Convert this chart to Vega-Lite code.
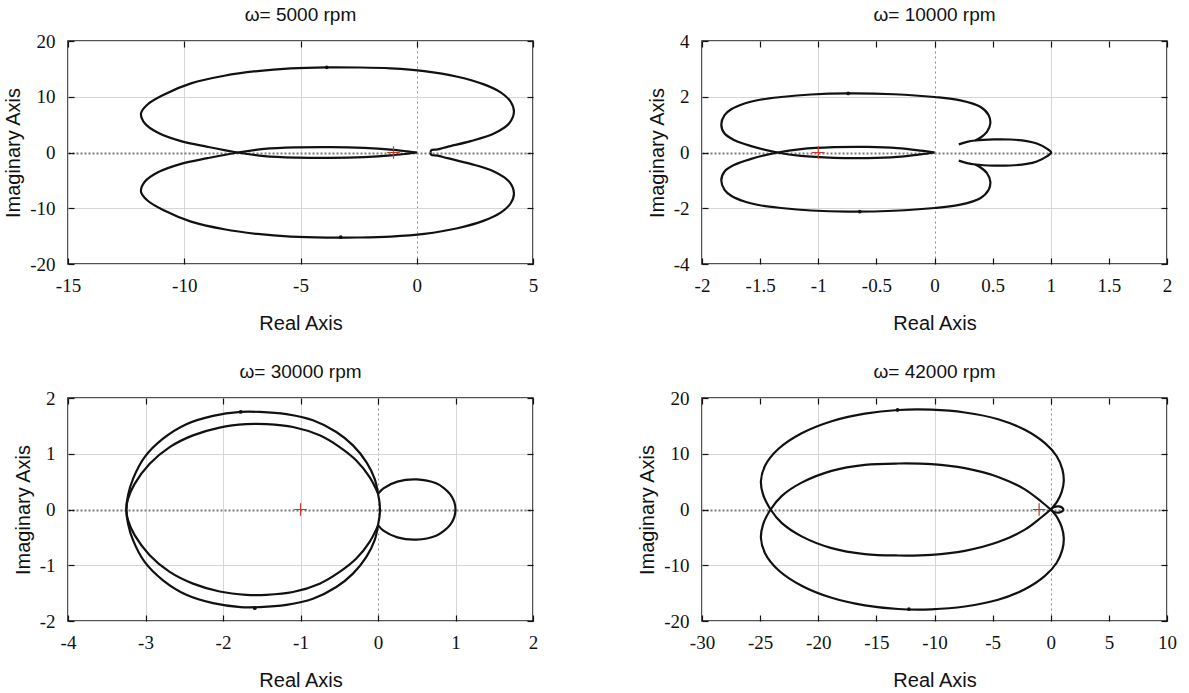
{
  "$schema": "https://vega.github.io/schema/vega-lite/v6.json",
  "background": "white",
  "padding": {"left": 2, "top": 5, "right": 0, "bottom": 0},
  "columns": 2,
  "spacing": {"row": 134, "column": 169},
  "bounds": "flush",
  "config": {
    "font": "Liberation Serif",
    "view": {"stroke": "#1a1a1a", "strokeWidth": 1.5},
    "axis": {
      "domain": false,
      "labelFont": "Liberation Serif",
      "labelFontSize": 19,
      "labelColor": "#111",
      "labelFlush": false,
      "labelOverlap": false,
      "tickColor": "#111",
      "tickSize": -6,
      "tickWidth": 1.2,
      "titleFont": "Liberation Sans",
      "titleFontSize": 20,
      "titleFontWeight": "normal",
      "titleColor": "#111",
      "gridColor": "#d6d6d6",
      "gridWidth": 1
    },
    "axisX": {"labelPadding": 18, "titlePadding": 18},
    "axisY": {"labelPadding": 19, "titlePadding": 6},
    "title": {"font": "Liberation Sans", "fontSize": 19, "fontWeight": "normal", "color": "#111", "offset": 7}
  },
  "concat": [
    {
      "title": "ω= 5000 rpm",
      "width": 465,
      "height": 223,
      "data": {"values": [
        {"k":"c","s":"U","i":0,"x":0.6,"y":0},
        {"k":"c","s":"U","i":1,"x":0.62,"y":0.4},
        {"k":"c","s":"U","i":2,"x":0.9,"y":0.55},
        {"k":"c","s":"U","i":3,"x":1.32,"y":1.02},
        {"k":"c","s":"U","i":4,"x":2.32,"y":2.04},
        {"k":"c","s":"U","i":5,"x":3.32,"y":3.41},
        {"k":"c","s":"U","i":6,"x":3.97,"y":5.21},
        {"k":"c","s":"U","i":7,"x":4.18,"y":7.3},
        {"k":"c","s":"U","i":8,"x":4.04,"y":9.1},
        {"k":"c","s":"U","i":9,"x":3.61,"y":10.78},
        {"k":"c","s":"U","i":10,"x":2.89,"y":12.22},
        {"k":"c","s":"U","i":11,"x":1.75,"y":13.59},
        {"k":"c","s":"U","i":12,"x":0.32,"y":14.61},
        {"k":"c","s":"U","i":13,"x":-1.12,"y":15.09},
        {"k":"c","s":"U","i":14,"x":-2.55,"y":15.25},
        {"k":"c","s":"U","i":15,"x":-3.87,"y":15.27},
        {"k":"c","s":"U","i":16,"x":-5.42,"y":15.09},
        {"k":"c","s":"U","i":17,"x":-6.85,"y":14.61},
        {"k":"c","s":"U","i":18,"x":-8.28,"y":13.77},
        {"k":"c","s":"U","i":19,"x":-9.71,"y":12.4},
        {"k":"c","s":"U","i":20,"x":-10.86,"y":10.42},
        {"k":"c","s":"U","i":21,"x":-11.58,"y":8.62},
        {"k":"c","s":"U","i":22,"x":-11.86,"y":7.0},
        {"k":"c","s":"U","i":23,"x":-11.69,"y":5.21},
        {"k":"c","s":"U","i":24,"x":-11.15,"y":3.59},
        {"k":"c","s":"U","i":25,"x":-10.14,"y":2.04},
        {"k":"c","s":"U","i":26,"x":-9.0,"y":1.02},
        {"k":"c","s":"U","i":27,"x":-7.71,"y":0},
        {"k":"c","s":"U","i":28,"x":-6.56,"y":-0.65},
        {"k":"c","s":"U","i":29,"x":-5.13,"y":-0.92},
        {"k":"c","s":"U","i":30,"x":-3.7,"y":-0.97},
        {"k":"c","s":"U","i":31,"x":-2.26,"y":-0.82},
        {"k":"c","s":"U","i":32,"x":-1.12,"y":-0.52},
        {"k":"c","s":"U","i":33,"x":-0.4,"y":-0.2},
        {"k":"c","s":"U","i":34,"x":0,"y":0},
        {"k":"c","s":"L","i":0,"x":0.6,"y":0},
        {"k":"c","s":"L","i":1,"x":0.62,"y":-0.4},
        {"k":"c","s":"L","i":2,"x":0.9,"y":-0.55},
        {"k":"c","s":"L","i":3,"x":1.32,"y":-1.02},
        {"k":"c","s":"L","i":4,"x":2.32,"y":-2.04},
        {"k":"c","s":"L","i":5,"x":3.32,"y":-3.41},
        {"k":"c","s":"L","i":6,"x":3.97,"y":-5.21},
        {"k":"c","s":"L","i":7,"x":4.18,"y":-7.3},
        {"k":"c","s":"L","i":8,"x":4.04,"y":-9.1},
        {"k":"c","s":"L","i":9,"x":3.61,"y":-10.78},
        {"k":"c","s":"L","i":10,"x":2.89,"y":-12.22},
        {"k":"c","s":"L","i":11,"x":1.75,"y":-13.59},
        {"k":"c","s":"L","i":12,"x":0.32,"y":-14.61},
        {"k":"c","s":"L","i":13,"x":-1.12,"y":-15.09},
        {"k":"c","s":"L","i":14,"x":-2.55,"y":-15.25},
        {"k":"c","s":"L","i":15,"x":-3.87,"y":-15.27},
        {"k":"c","s":"L","i":16,"x":-5.42,"y":-15.09},
        {"k":"c","s":"L","i":17,"x":-6.85,"y":-14.61},
        {"k":"c","s":"L","i":18,"x":-8.28,"y":-13.77},
        {"k":"c","s":"L","i":19,"x":-9.71,"y":-12.4},
        {"k":"c","s":"L","i":20,"x":-10.86,"y":-10.42},
        {"k":"c","s":"L","i":21,"x":-11.58,"y":-8.62},
        {"k":"c","s":"L","i":22,"x":-11.86,"y":-7.0},
        {"k":"c","s":"L","i":23,"x":-11.69,"y":-5.21},
        {"k":"c","s":"L","i":24,"x":-11.15,"y":-3.59},
        {"k":"c","s":"L","i":25,"x":-10.14,"y":-2.04},
        {"k":"c","s":"L","i":26,"x":-9.0,"y":-1.02},
        {"k":"c","s":"L","i":27,"x":-7.71,"y":0},
        {"k":"c","s":"L","i":28,"x":-6.56,"y":0.65},
        {"k":"c","s":"L","i":29,"x":-5.13,"y":0.92},
        {"k":"c","s":"L","i":30,"x":-3.7,"y":0.97},
        {"k":"c","s":"L","i":31,"x":-2.26,"y":0.82},
        {"k":"c","s":"L","i":32,"x":-1.12,"y":0.52},
        {"k":"c","s":"L","i":33,"x":-0.4,"y":0.2},
        {"k":"c","s":"L","i":34,"x":0,"y":0},
        {"k":"d","x":-3.87,"y":15.27},
        {"k":"d","x":-3.27,"y":-15.2},
        {"k":"p","x":-1,"y":0}
      ]},
      "layer": [
        {
          "transform": [{"filter": "datum.k === 'c'"}],
          "mark": {"type": "line", "interpolate": "catmull-rom", "stroke": "#111", "strokeWidth": 2.2},
          "encoding": {
            "x": {"field": "x", "type": "quantitative", "scale": {"domain": [-15, 5], "nice": false, "zero": false},
              "axis": {"title": "Real Axis", "labelFont": "Liberation Serif", "values": [-15, -10, -5, 0, 5], "labelExpr": "'' + datum.value",
                "gridColor": {"condition": {"test": "datum.value === 0", "value": "#8c8c8c"}, "value": "#d6d6d6"},
                "gridDash": {"condition": {"test": "datum.value === 0", "value": [2, 3]}, "value": []}}},
            "y": {"field": "y", "type": "quantitative", "scale": {"domain": [-20, 20], "nice": false, "zero": false},
              "axis": {"title": "Imaginary Axis", "labelFont": "Liberation Serif", "values": [-20, -10, 0, 10, 20], "labelExpr": "'' + datum.value",
                "gridColor": {"condition": {"test": "datum.value === 0", "value": "#7a7a7a"}, "value": "#d6d6d6"},
                "gridDash": {"condition": {"test": "datum.value === 0", "value": [2, 2]}, "value": []},
                "gridWidth": {"condition": {"test": "datum.value === 0", "value": 1.8}, "value": 1}}},
            "detail": {"field": "s", "type": "nominal"},
            "order": {"field": "i", "type": "quantitative"}
          }
        },
        {
          "transform": [{"filter": "datum.k === 'd'"}],
          "mark": {"type": "point", "shape": "circle", "filled": true, "color": "#111", "size": 14, "opacity": 1},
          "encoding": {
            "x": {"field": "x", "type": "quantitative", "scale": {"domain": [-15, 5], "nice": false, "zero": false}, "axis": null},
            "y": {"field": "y", "type": "quantitative", "scale": {"domain": [-20, 20], "nice": false, "zero": false}, "axis": null}
          }
        },
        {
          "transform": [{"filter": "datum.k === 'p'"}],
          "mark": {"type": "point", "shape": "M-1,0H1M0,-1V1", "filled": false, "stroke": "#c0392b", "strokeWidth": 1.2, "size": 160, "opacity": 1},
          "encoding": {
            "x": {"field": "x", "type": "quantitative", "scale": {"domain": [-15, 5], "nice": false, "zero": false},
              "axis": {"orient": "top", "labels": false, "title": null, "grid": false, "values": [-15, -10, -5, 0, 5]}},
            "y": {"field": "y", "type": "quantitative", "scale": {"domain": [-20, 20], "nice": false, "zero": false},
              "axis": {"orient": "right", "labels": false, "title": null, "grid": false, "values": [-20, -10, 0, 10, 20]}}
          }
        }
      ],
      "resolve": {"axis": {"x": "independent", "y": "independent"}}
    },
    {
      "title": "ω= 10000 rpm",
      "width": 465,
      "height": 223,
      "data": {"values": [
        {"k":"c","s":"U","i":0,"x":0.35,"y":0.43},
        {"k":"c","s":"U","i":1,"x":0.394,"y":0.53},
        {"k":"c","s":"U","i":2,"x":0.451,"y":0.74},
        {"k":"c","s":"U","i":3,"x":0.48,"y":1.04},
        {"k":"c","s":"U","i":4,"x":0.466,"y":1.34},
        {"k":"c","s":"U","i":5,"x":0.394,"y":1.64},
        {"k":"c","s":"U","i":6,"x":0.223,"y":1.87},
        {"k":"c","s":"U","i":7,"x":0,"y":1.99},
        {"k":"c","s":"U","i":8,"x":-0.349,"y":2.09},
        {"k":"c","s":"U","i":9,"x":-0.743,"y":2.12},
        {"k":"c","s":"U","i":10,"x":-1.063,"y":2.08},
        {"k":"c","s":"U","i":11,"x":-1.32,"y":1.99},
        {"k":"c","s":"U","i":12,"x":-1.491,"y":1.9},
        {"k":"c","s":"U","i":13,"x":-1.634,"y":1.76},
        {"k":"c","s":"U","i":14,"x":-1.749,"y":1.55},
        {"k":"c","s":"U","i":15,"x":-1.806,"y":1.34},
        {"k":"c","s":"U","i":16,"x":-1.834,"y":1.0},
        {"k":"c","s":"U","i":17,"x":-1.806,"y":0.68},
        {"k":"c","s":"U","i":18,"x":-1.72,"y":0.44},
        {"k":"c","s":"U","i":19,"x":-1.577,"y":0.23},
        {"k":"c","s":"U","i":20,"x":-1.349,"y":0},
        {"k":"c","s":"U","i":21,"x":-1.149,"y":-0.12},
        {"k":"c","s":"U","i":22,"x":-0.863,"y":-0.19},
        {"k":"c","s":"U","i":23,"x":-0.577,"y":-0.2},
        {"k":"c","s":"U","i":24,"x":-0.32,"y":-0.16},
        {"k":"c","s":"U","i":25,"x":-0.12,"y":-0.07},
        {"k":"c","s":"U","i":26,"x":0,"y":0},
        {"k":"c","s":"L","i":0,"x":0.35,"y":-0.43},
        {"k":"c","s":"L","i":1,"x":0.394,"y":-0.53},
        {"k":"c","s":"L","i":2,"x":0.451,"y":-0.74},
        {"k":"c","s":"L","i":3,"x":0.48,"y":-1.04},
        {"k":"c","s":"L","i":4,"x":0.466,"y":-1.34},
        {"k":"c","s":"L","i":5,"x":0.394,"y":-1.64},
        {"k":"c","s":"L","i":6,"x":0.223,"y":-1.87},
        {"k":"c","s":"L","i":7,"x":0,"y":-1.99},
        {"k":"c","s":"L","i":8,"x":-0.349,"y":-2.09},
        {"k":"c","s":"L","i":9,"x":-0.743,"y":-2.12},
        {"k":"c","s":"L","i":10,"x":-1.063,"y":-2.08},
        {"k":"c","s":"L","i":11,"x":-1.32,"y":-1.99},
        {"k":"c","s":"L","i":12,"x":-1.491,"y":-1.9},
        {"k":"c","s":"L","i":13,"x":-1.634,"y":-1.76},
        {"k":"c","s":"L","i":14,"x":-1.749,"y":-1.55},
        {"k":"c","s":"L","i":15,"x":-1.806,"y":-1.34},
        {"k":"c","s":"L","i":16,"x":-1.834,"y":-1.0},
        {"k":"c","s":"L","i":17,"x":-1.806,"y":-0.68},
        {"k":"c","s":"L","i":18,"x":-1.72,"y":-0.44},
        {"k":"c","s":"L","i":19,"x":-1.577,"y":-0.23},
        {"k":"c","s":"L","i":20,"x":-1.349,"y":0},
        {"k":"c","s":"L","i":21,"x":-1.149,"y":0.12},
        {"k":"c","s":"L","i":22,"x":-0.863,"y":0.19},
        {"k":"c","s":"L","i":23,"x":-0.577,"y":0.2},
        {"k":"c","s":"L","i":24,"x":-0.32,"y":0.16},
        {"k":"c","s":"L","i":25,"x":-0.12,"y":0.07},
        {"k":"c","s":"L","i":26,"x":0,"y":0},
        {"k":"c","s":"S","i":0,"x":0.209,"y":0.29},
        {"k":"c","s":"S","i":1,"x":0.28,"y":0.38},
        {"k":"c","s":"S","i":2,"x":0.35,"y":0.43},
        {"k":"c","s":"S","i":3,"x":0.51,"y":0.47},
        {"k":"c","s":"S","i":4,"x":0.651,"y":0.466},
        {"k":"c","s":"S","i":5,"x":0.794,"y":0.41},
        {"k":"c","s":"S","i":6,"x":0.88,"y":0.32},
        {"k":"c","s":"S","i":7,"x":0.966,"y":0.14},
        {"k":"c","s":"S","i":8,"x":1.003,"y":0},
        {"k":"c","s":"S","i":9,"x":0.966,"y":-0.14},
        {"k":"c","s":"S","i":10,"x":0.88,"y":-0.32},
        {"k":"c","s":"S","i":11,"x":0.794,"y":-0.41},
        {"k":"c","s":"S","i":12,"x":0.651,"y":-0.466},
        {"k":"c","s":"S","i":13,"x":0.51,"y":-0.47},
        {"k":"c","s":"S","i":14,"x":0.35,"y":-0.43},
        {"k":"c","s":"S","i":15,"x":0.28,"y":-0.38},
        {"k":"c","s":"S","i":16,"x":0.209,"y":-0.29},
        {"k":"d","x":-0.743,"y":2.12},
        {"k":"d","x":-0.643,"y":-2.12},
        {"k":"p","x":-1,"y":0}
      ]},
      "layer": [
        {
          "transform": [{"filter": "datum.k === 'c'"}],
          "mark": {"type": "line", "interpolate": "catmull-rom", "stroke": "#111", "strokeWidth": 2.2},
          "encoding": {
            "x": {"field": "x", "type": "quantitative", "scale": {"domain": [-2, 2], "nice": false, "zero": false},
              "axis": {"title": "Real Axis", "labelFont": "Liberation Serif", "values": [-2, -1.5, -1, -0.5, 0, 0.5, 1, 1.5, 2], "labelExpr": "'' + datum.value",
                "gridOpacity": {"condition": {"test": "datum.value % 1 !== 0", "value": 0}, "value": 1},
                "gridColor": {"condition": {"test": "datum.value === 0", "value": "#8c8c8c"}, "value": "#d6d6d6"},
                "gridDash": {"condition": {"test": "datum.value === 0", "value": [2, 3]}, "value": []}}},
            "y": {"field": "y", "type": "quantitative", "scale": {"domain": [-4, 4], "nice": false, "zero": false},
              "axis": {"title": "Imaginary Axis", "labelFont": "Liberation Serif", "values": [-4, -2, 0, 2, 4], "labelExpr": "'' + datum.value",
                "gridColor": {"condition": {"test": "datum.value === 0", "value": "#7a7a7a"}, "value": "#d6d6d6"},
                "gridDash": {"condition": {"test": "datum.value === 0", "value": [2, 2]}, "value": []},
                "gridWidth": {"condition": {"test": "datum.value === 0", "value": 1.8}, "value": 1}}},
            "detail": {"field": "s", "type": "nominal"},
            "order": {"field": "i", "type": "quantitative"}
          }
        },
        {
          "transform": [{"filter": "datum.k === 'd'"}],
          "mark": {"type": "point", "shape": "circle", "filled": true, "color": "#111", "size": 14, "opacity": 1},
          "encoding": {
            "x": {"field": "x", "type": "quantitative", "scale": {"domain": [-2, 2], "nice": false, "zero": false}, "axis": null},
            "y": {"field": "y", "type": "quantitative", "scale": {"domain": [-4, 4], "nice": false, "zero": false}, "axis": null}
          }
        },
        {
          "transform": [{"filter": "datum.k === 'p'"}],
          "mark": {"type": "point", "shape": "M-1,0H1M0,-1V1", "filled": false, "stroke": "#c0392b", "strokeWidth": 1.2, "size": 160, "opacity": 1},
          "encoding": {
            "x": {"field": "x", "type": "quantitative", "scale": {"domain": [-2, 2], "nice": false, "zero": false},
              "axis": {"orient": "top", "labels": false, "title": null, "grid": false, "values": [-2, -1.5, -1, -0.5, 0, 0.5, 1, 1.5, 2]}},
            "y": {"field": "y", "type": "quantitative", "scale": {"domain": [-4, 4], "nice": false, "zero": false},
              "axis": {"orient": "right", "labels": false, "title": null, "grid": false, "values": [-4, -2, 0, 2, 4]}}
          }
        }
      ],
      "resolve": {"axis": {"x": "independent", "y": "independent"}}
    },
    {
      "title": "ω= 30000 rpm",
      "width": 465,
      "height": 223,
      "data": {"values": [
        {"k":"c","s":"A","i":0,"x":0,"y":0.28},
        {"k":"c","s":"A","i":1,"x":-0.043,"y":0.55},
        {"k":"c","s":"A","i":2,"x":-0.15,"y":0.85},
        {"k":"c","s":"A","i":3,"x":-0.323,"y":1.15},
        {"k":"c","s":"A","i":4,"x":-0.538,"y":1.39},
        {"k":"c","s":"A","i":5,"x":-0.839,"y":1.6},
        {"k":"c","s":"A","i":6,"x":-1.183,"y":1.71},
        {"k":"c","s":"A","i":7,"x":-1.527,"y":1.75},
        {"k":"c","s":"A","i":8,"x":-1.772,"y":1.75},
        {"k":"c","s":"A","i":9,"x":-2.129,"y":1.68},
        {"k":"c","s":"A","i":10,"x":-2.473,"y":1.53},
        {"k":"c","s":"A","i":11,"x":-2.774,"y":1.27},
        {"k":"c","s":"A","i":12,"x":-3.011,"y":0.94},
        {"k":"c","s":"A","i":13,"x":-3.161,"y":0.55},
        {"k":"c","s":"A","i":14,"x":-3.226,"y":0.25},
        {"k":"c","s":"A","i":15,"x":-3.247,"y":0},
        {"k":"c","s":"A","i":16,"x":-3.226,"y":-0.19},
        {"k":"c","s":"A","i":17,"x":-3.14,"y":-0.46},
        {"k":"c","s":"A","i":18,"x":-2.946,"y":-0.82},
        {"k":"c","s":"A","i":19,"x":-2.688,"y":-1.12},
        {"k":"c","s":"A","i":20,"x":-2.387,"y":-1.33},
        {"k":"c","s":"A","i":21,"x":-2.043,"y":-1.47},
        {"k":"c","s":"A","i":22,"x":-1.699,"y":-1.53},
        {"k":"c","s":"A","i":23,"x":-1.441,"y":-1.53},
        {"k":"c","s":"A","i":24,"x":-1.097,"y":-1.48},
        {"k":"c","s":"A","i":25,"x":-0.753,"y":-1.33},
        {"k":"c","s":"A","i":26,"x":-0.495,"y":-1.12},
        {"k":"c","s":"A","i":27,"x":-0.28,"y":-0.88},
        {"k":"c","s":"A","i":28,"x":-0.108,"y":-0.58},
        {"k":"c","s":"A","i":29,"x":0,"y":-0.29},
        {"k":"c","s":"B","i":0,"x":0,"y":-0.28},
        {"k":"c","s":"B","i":1,"x":-0.043,"y":-0.55},
        {"k":"c","s":"B","i":2,"x":-0.15,"y":-0.85},
        {"k":"c","s":"B","i":3,"x":-0.323,"y":-1.15},
        {"k":"c","s":"B","i":4,"x":-0.538,"y":-1.39},
        {"k":"c","s":"B","i":5,"x":-0.839,"y":-1.6},
        {"k":"c","s":"B","i":6,"x":-1.183,"y":-1.71},
        {"k":"c","s":"B","i":7,"x":-1.527,"y":-1.75},
        {"k":"c","s":"B","i":8,"x":-1.772,"y":-1.75},
        {"k":"c","s":"B","i":9,"x":-2.129,"y":-1.68},
        {"k":"c","s":"B","i":10,"x":-2.473,"y":-1.53},
        {"k":"c","s":"B","i":11,"x":-2.774,"y":-1.27},
        {"k":"c","s":"B","i":12,"x":-3.011,"y":-0.94},
        {"k":"c","s":"B","i":13,"x":-3.161,"y":-0.55},
        {"k":"c","s":"B","i":14,"x":-3.226,"y":-0.25},
        {"k":"c","s":"B","i":15,"x":-3.247,"y":0},
        {"k":"c","s":"B","i":16,"x":-3.226,"y":0.19},
        {"k":"c","s":"B","i":17,"x":-3.14,"y":0.46},
        {"k":"c","s":"B","i":18,"x":-2.946,"y":0.82},
        {"k":"c","s":"B","i":19,"x":-2.688,"y":1.12},
        {"k":"c","s":"B","i":20,"x":-2.387,"y":1.33},
        {"k":"c","s":"B","i":21,"x":-2.043,"y":1.47},
        {"k":"c","s":"B","i":22,"x":-1.699,"y":1.53},
        {"k":"c","s":"B","i":23,"x":-1.441,"y":1.53},
        {"k":"c","s":"B","i":24,"x":-1.097,"y":1.48},
        {"k":"c","s":"B","i":25,"x":-0.753,"y":1.33},
        {"k":"c","s":"B","i":26,"x":-0.495,"y":1.12},
        {"k":"c","s":"B","i":27,"x":-0.28,"y":0.88},
        {"k":"c","s":"B","i":28,"x":-0.108,"y":0.58},
        {"k":"c","s":"B","i":29,"x":0,"y":0.29},
        {"k":"c","s":"S","i":0,"x":0,"y":0.28},
        {"k":"c","s":"S","i":1,"x":0.07,"y":0.38},
        {"k":"c","s":"S","i":2,"x":0.25,"y":0.5},
        {"k":"c","s":"S","i":3,"x":0.5,"y":0.54},
        {"k":"c","s":"S","i":4,"x":0.75,"y":0.47},
        {"k":"c","s":"S","i":5,"x":0.854,"y":0.38},
        {"k":"c","s":"S","i":6,"x":0.933,"y":0.27},
        {"k":"c","s":"S","i":7,"x":0.983,"y":0.14},
        {"k":"c","s":"S","i":8,"x":1.0,"y":0},
        {"k":"c","s":"S","i":9,"x":0.983,"y":-0.14},
        {"k":"c","s":"S","i":10,"x":0.933,"y":-0.27},
        {"k":"c","s":"S","i":11,"x":0.854,"y":-0.38},
        {"k":"c","s":"S","i":12,"x":0.75,"y":-0.47},
        {"k":"c","s":"S","i":13,"x":0.5,"y":-0.54},
        {"k":"c","s":"S","i":14,"x":0.25,"y":-0.5},
        {"k":"c","s":"S","i":15,"x":0.07,"y":-0.38},
        {"k":"c","s":"S","i":16,"x":0,"y":-0.28},
        {"k":"c","s":"D","i":0,"x":0,"y":0.28},
        {"k":"c","s":"D","i":1,"x":0.02,"y":0.12},
        {"k":"c","s":"D","i":2,"x":0.025,"y":0},
        {"k":"c","s":"D","i":3,"x":0.02,"y":-0.12},
        {"k":"c","s":"D","i":4,"x":0,"y":-0.28},
        {"k":"d","x":-1.772,"y":1.75},
        {"k":"d","x":-1.59,"y":-1.77},
        {"k":"p","x":-1,"y":0}
      ]},
      "layer": [
        {
          "transform": [{"filter": "datum.k === 'c'"}],
          "mark": {"type": "line", "interpolate": "catmull-rom", "stroke": "#111", "strokeWidth": 2.2},
          "encoding": {
            "x": {"field": "x", "type": "quantitative", "scale": {"domain": [-4, 2], "nice": false, "zero": false},
              "axis": {"title": "Real Axis", "labelFont": "Liberation Serif", "values": [-4, -3, -2, -1, 0, 1, 2], "labelExpr": "'' + datum.value",
                "gridColor": {"condition": {"test": "datum.value === 0", "value": "#8c8c8c"}, "value": "#d6d6d6"},
                "gridDash": {"condition": {"test": "datum.value === 0", "value": [2, 3]}, "value": []}}},
            "y": {"field": "y", "type": "quantitative", "scale": {"domain": [-2, 2], "nice": false, "zero": false},
              "axis": {"title": "Imaginary Axis", "labelFont": "Liberation Serif", "values": [-2, -1, 0, 1, 2], "labelExpr": "'' + datum.value",
                "gridColor": {"condition": {"test": "datum.value === 0", "value": "#7a7a7a"}, "value": "#d6d6d6"},
                "gridDash": {"condition": {"test": "datum.value === 0", "value": [2, 2]}, "value": []},
                "gridWidth": {"condition": {"test": "datum.value === 0", "value": 1.8}, "value": 1}}},
            "detail": {"field": "s", "type": "nominal"},
            "order": {"field": "i", "type": "quantitative"}
          }
        },
        {
          "transform": [{"filter": "datum.k === 'd'"}],
          "mark": {"type": "point", "shape": "circle", "filled": true, "color": "#111", "size": 14, "opacity": 1},
          "encoding": {
            "x": {"field": "x", "type": "quantitative", "scale": {"domain": [-4, 2], "nice": false, "zero": false}, "axis": null},
            "y": {"field": "y", "type": "quantitative", "scale": {"domain": [-2, 2], "nice": false, "zero": false}, "axis": null}
          }
        },
        {
          "transform": [{"filter": "datum.k === 'p'"}],
          "mark": {"type": "point", "shape": "M-1,0H1M0,-1V1", "filled": false, "stroke": "#c0392b", "strokeWidth": 1.2, "size": 160, "opacity": 1},
          "encoding": {
            "x": {"field": "x", "type": "quantitative", "scale": {"domain": [-4, 2], "nice": false, "zero": false},
              "axis": {"orient": "top", "labels": false, "title": null, "grid": false, "values": [-4, -3, -2, -1, 0, 1, 2]}},
            "y": {"field": "y", "type": "quantitative", "scale": {"domain": [-2, 2], "nice": false, "zero": false},
              "axis": {"orient": "right", "labels": false, "title": null, "grid": false, "values": [-2, -1, 0, 1, 2]}}
          }
        }
      ],
      "resolve": {"axis": {"x": "independent", "y": "independent"}}
    },
    {
      "title": "ω= 42000 rpm",
      "width": 465,
      "height": 223,
      "data": {"values": [
        {"k":"c","s":"U","i":0,"x":0,"y":0},
        {"k":"c","s":"U","i":1,"x":0.55,"y":1.4},
        {"k":"c","s":"U","i":2,"x":0.95,"y":3.2},
        {"k":"c","s":"U","i":3,"x":1.12,"y":5.1},
        {"k":"c","s":"U","i":4,"x":1.0,"y":7.2},
        {"k":"c","s":"U","i":5,"x":0.5,"y":9.6},
        {"k":"c","s":"U","i":6,"x":-0.5,"y":11.9},
        {"k":"c","s":"U","i":7,"x":-2.23,"y":14.3},
        {"k":"c","s":"U","i":8,"x":-4.53,"y":16.2},
        {"k":"c","s":"U","i":9,"x":-7.39,"y":17.4},
        {"k":"c","s":"U","i":10,"x":-10.26,"y":17.9},
        {"k":"c","s":"U","i":11,"x":-13.12,"y":17.85},
        {"k":"c","s":"U","i":12,"x":-15.99,"y":17.2},
        {"k":"c","s":"U","i":13,"x":-18.85,"y":15.84},
        {"k":"c","s":"U","i":14,"x":-21.43,"y":13.67},
        {"k":"c","s":"U","i":15,"x":-23.44,"y":10.84},
        {"k":"c","s":"U","i":16,"x":-24.58,"y":7.83},
        {"k":"c","s":"U","i":17,"x":-24.93,"y":5.12},
        {"k":"c","s":"U","i":18,"x":-24.75,"y":2.7},
        {"k":"c","s":"U","i":19,"x":-24.1,"y":0},
        {"k":"c","s":"U","i":20,"x":-23.15,"y":-2.41},
        {"k":"c","s":"U","i":21,"x":-21.43,"y":-4.82},
        {"k":"c","s":"U","i":22,"x":-18.85,"y":-6.93},
        {"k":"c","s":"U","i":23,"x":-15.99,"y":-8.01},
        {"k":"c","s":"U","i":24,"x":-13.12,"y":-8.25},
        {"k":"c","s":"U","i":25,"x":-10.26,"y":-8.13},
        {"k":"c","s":"U","i":26,"x":-7.39,"y":-7.41},
        {"k":"c","s":"U","i":27,"x":-4.53,"y":-5.84},
        {"k":"c","s":"U","i":28,"x":-2.23,"y":-3.61},
        {"k":"c","s":"U","i":29,"x":-0.8,"y":-1.39},
        {"k":"c","s":"U","i":30,"x":0,"y":0},
        {"k":"c","s":"L","i":0,"x":0,"y":0},
        {"k":"c","s":"L","i":1,"x":0.55,"y":-1.4},
        {"k":"c","s":"L","i":2,"x":0.95,"y":-3.2},
        {"k":"c","s":"L","i":3,"x":1.12,"y":-5.1},
        {"k":"c","s":"L","i":4,"x":1.0,"y":-7.2},
        {"k":"c","s":"L","i":5,"x":0.5,"y":-9.6},
        {"k":"c","s":"L","i":6,"x":-0.5,"y":-11.9},
        {"k":"c","s":"L","i":7,"x":-2.23,"y":-14.3},
        {"k":"c","s":"L","i":8,"x":-4.53,"y":-16.2},
        {"k":"c","s":"L","i":9,"x":-7.39,"y":-17.4},
        {"k":"c","s":"L","i":10,"x":-10.26,"y":-17.9},
        {"k":"c","s":"L","i":11,"x":-13.12,"y":-17.85},
        {"k":"c","s":"L","i":12,"x":-15.99,"y":-17.2},
        {"k":"c","s":"L","i":13,"x":-18.85,"y":-15.84},
        {"k":"c","s":"L","i":14,"x":-21.43,"y":-13.67},
        {"k":"c","s":"L","i":15,"x":-23.44,"y":-10.84},
        {"k":"c","s":"L","i":16,"x":-24.58,"y":-7.83},
        {"k":"c","s":"L","i":17,"x":-24.93,"y":-5.12},
        {"k":"c","s":"L","i":18,"x":-24.75,"y":-2.7},
        {"k":"c","s":"L","i":19,"x":-24.1,"y":0},
        {"k":"c","s":"L","i":20,"x":-23.15,"y":2.41},
        {"k":"c","s":"L","i":21,"x":-21.43,"y":4.82},
        {"k":"c","s":"L","i":22,"x":-18.85,"y":6.93},
        {"k":"c","s":"L","i":23,"x":-15.99,"y":8.01},
        {"k":"c","s":"L","i":24,"x":-13.12,"y":8.25},
        {"k":"c","s":"L","i":25,"x":-10.26,"y":8.13},
        {"k":"c","s":"L","i":26,"x":-7.39,"y":7.41},
        {"k":"c","s":"L","i":27,"x":-4.53,"y":5.84},
        {"k":"c","s":"L","i":28,"x":-2.23,"y":3.61},
        {"k":"c","s":"L","i":29,"x":-0.8,"y":1.39},
        {"k":"c","s":"L","i":30,"x":0,"y":0},
        {"k":"c","s":"S","i":0,"x":0,"y":0},
        {"k":"c","s":"S","i":1,"x":0.3,"y":0.45},
        {"k":"c","s":"S","i":2,"x":0.7,"y":0.55},
        {"k":"c","s":"S","i":3,"x":1.0,"y":0.3},
        {"k":"c","s":"S","i":4,"x":1.08,"y":0},
        {"k":"c","s":"S","i":5,"x":1.0,"y":-0.3},
        {"k":"c","s":"S","i":6,"x":0.7,"y":-0.55},
        {"k":"c","s":"S","i":7,"x":0.3,"y":-0.45},
        {"k":"c","s":"S","i":8,"x":0,"y":0},
        {"k":"d","x":-13.18,"y":17.85},
        {"k":"d","x":-12.2,"y":-17.87},
        {"k":"p","x":-1,"y":0}
      ]},
      "layer": [
        {
          "transform": [{"filter": "datum.k === 'c'"}],
          "mark": {"type": "line", "interpolate": "catmull-rom", "stroke": "#111", "strokeWidth": 2.2},
          "encoding": {
            "x": {"field": "x", "type": "quantitative", "scale": {"domain": [-30, 10], "nice": false, "zero": false},
              "axis": {"title": "Real Axis", "labelFont": "Liberation Serif", "values": [-30, -25, -20, -15, -10, -5, 0, 5, 10], "labelExpr": "'' + datum.value",
                "gridOpacity": {"condition": {"test": "datum.value % 10 !== 0", "value": 0}, "value": 1},
                "gridColor": {"condition": {"test": "datum.value === 0", "value": "#8c8c8c"}, "value": "#d6d6d6"},
                "gridDash": {"condition": {"test": "datum.value === 0", "value": [2, 3]}, "value": []}}},
            "y": {"field": "y", "type": "quantitative", "scale": {"domain": [-20, 20], "nice": false, "zero": false},
              "axis": {"title": "Imaginary Axis", "labelFont": "Liberation Serif", "values": [-20, -10, 0, 10, 20], "labelExpr": "'' + datum.value",
                "gridColor": {"condition": {"test": "datum.value === 0", "value": "#7a7a7a"}, "value": "#d6d6d6"},
                "gridDash": {"condition": {"test": "datum.value === 0", "value": [2, 2]}, "value": []},
                "gridWidth": {"condition": {"test": "datum.value === 0", "value": 1.8}, "value": 1}}},
            "detail": {"field": "s", "type": "nominal"},
            "order": {"field": "i", "type": "quantitative"}
          }
        },
        {
          "transform": [{"filter": "datum.k === 'd'"}],
          "mark": {"type": "point", "shape": "circle", "filled": true, "color": "#111", "size": 14, "opacity": 1},
          "encoding": {
            "x": {"field": "x", "type": "quantitative", "scale": {"domain": [-30, 10], "nice": false, "zero": false}, "axis": null},
            "y": {"field": "y", "type": "quantitative", "scale": {"domain": [-20, 20], "nice": false, "zero": false}, "axis": null}
          }
        },
        {
          "transform": [{"filter": "datum.k === 'p'"}],
          "mark": {"type": "point", "shape": "M-1,0H1M0,-1V1", "filled": false, "stroke": "#c0392b", "strokeWidth": 1.2, "size": 160, "opacity": 1},
          "encoding": {
            "x": {"field": "x", "type": "quantitative", "scale": {"domain": [-30, 10], "nice": false, "zero": false},
              "axis": {"orient": "top", "labels": false, "title": null, "grid": false, "values": [-30, -25, -20, -15, -10, -5, 0, 5, 10]}},
            "y": {"field": "y", "type": "quantitative", "scale": {"domain": [-20, 20], "nice": false, "zero": false},
              "axis": {"orient": "right", "labels": false, "title": null, "grid": false, "values": [-20, -10, 0, 10, 20]}}
          }
        }
      ],
      "resolve": {"axis": {"x": "independent", "y": "independent"}}
    }
  ]
}
